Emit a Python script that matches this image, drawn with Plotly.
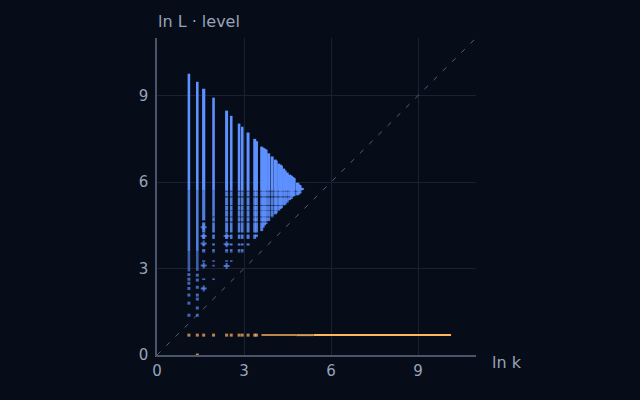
import plotly.graph_objects as go

# Columns: ln k, top of column, lowest mark
col_x = [1.10, 1.39, 1.61, 1.95, 2.40, 2.56, 2.83, 2.94, 3.14, 3.37, 3.43, 3.61, 3.66, 3.71, 3.76, 3.85, 3.97,
         4.08, 4.11, 4.20, 4.26, 4.29, 4.37, 4.42, 4.49, 4.57, 4.62, 4.63, 4.67, 4.69, 4.73,
         4.84, 4.87, 4.92, 4.93, 5.00, 5.02]
col_top = [9.76, 9.48, 9.24, 8.93, 8.48, 8.30, 8.03, 7.92, 7.72, 7.50, 7.42, 7.23, 7.19, 7.16, 7.13, 7.00, 6.89,
           6.78, 6.74, 6.64, 6.60, 6.57, 6.47, 6.40, 6.33, 6.26, 6.23, 6.21, 6.18, 6.16, 6.14,
           5.98, 5.95, 5.90, 5.88, 5.80, 5.78]
col_low = [2.90, 2.92, 2.28, 2.60, 3.07, 3.23, 3.55, 3.55, 3.80, 4.03, 4.10, 4.30, 4.42, 4.50, 4.55, 4.65, 4.77,
           4.88, 4.92, 5.00, 5.07, 5.10, 5.17, 5.22, 5.29, 5.37, 5.41, 5.43, 5.47, 5.49, 5.52,
           5.54, 5.56, 5.60, 5.62, 5.72, 5.75]
solid_from = [2.90, 2.92, 4.67, 5.00] + [5.67] * 33
col_width = [2.6, 2.6, 3.2, 2.6, 3.0, 2.6, 2.6, 2.6, 3.0, 3.0] + [3.0] * 27

# Value ranges in which marks are present (gaps between them are empty)
level_bands = [(2.28, 2.34), (2.60, 2.66), (3.07, 3.13), (3.23, 3.29), (3.55, 3.67), (3.80, 3.87), (4.03, 4.18),
               (4.25, 4.60), (4.63, 4.78), (4.80, 5.00), (5.01, 5.17), (5.19, 5.47), (5.50, 5.66)]

# Sparse marks below the solid parts of the first columns
sparse_x = [1.10, 1.10, 1.10, 1.10, 1.10, 1.10, 1.10, 1.39, 1.39, 1.39, 1.39, 1.39, 1.39, 1.39]
sparse_y = [2.79, 2.63, 2.49, 2.31, 2.08, 1.80, 1.38, 2.77, 2.60, 2.35, 2.08, 1.94, 1.63, 1.38]
plus_x = [1.61, 1.61, 1.61, 2.40, 1.61, 1.61, 2.40, 2.40]
plus_y = [2.31, 3.11, 3.87, 3.09, 4.13, 4.43, 3.84, 4.13]

# Orange series at ln L = ln 2
orange_level = 0.69
orange_runs = [(3.60, 4.80, 0.72), (4.80, 5.40, 0.85), (5.40, 10.14, 1.0)]
orange_extra_x = [1.39]
orange_extra_y = [0.0]

diag = [0, 11]
split_levels = [(0.0, 3.6, 0.62), (3.6, 5.7, 0.85), (5.7, 11.0, 1.0)]

BLUE = "94,144,255"
ORANGE = "255,180,94"
BG = "#060c18"
TEXT = "#98a3b8"
GRID = "#1a2132"
AXIS = "#4b5468"

fig = go.Figure()
fig.add_trace(go.Scatter(x=diag, y=diag, mode="lines",
                         line=dict(color="rgba(200,210,230,0.42)", width=1, dash="5px,8px"),
                         hoverinfo="skip"))

for w in sorted(set(col_width)):
    for lo_a, hi_a, alpha in split_levels:
        xs, ys = [], []
        for x, top, low, solid, cw in zip(col_x, col_top, col_low, solid_from, col_width):
            if cw != w:
                continue
            pieces = [(solid, top)]
            for a, b in level_bands:
                if b <= solid:
                    pieces.append((a, b))
            for a, b in pieces:
                a2, b2 = max(a, low, lo_a), min(b, top, hi_a)
                if b2 > a2:
                    xs += [x, x, None]
                    ys += [a2, b2, None]
        fig.add_trace(go.Scatter(x=xs, y=ys, mode="lines", line=dict(color=f"rgba({BLUE},{alpha})", width=w),
                                 connectgaps=False, hoverinfo="skip"))

fig.add_trace(go.Scatter(x=sparse_x, y=sparse_y, mode="markers",
                         marker=dict(symbol="square", size=3, color=f"rgba({BLUE},0.7)", line=dict(width=0)),
                         hoverinfo="skip"))
fig.add_trace(go.Scatter(x=plus_x, y=plus_y, mode="markers",
                         marker=dict(symbol="cross", size=5, color=f"rgba({BLUE},0.7)", line=dict(width=0)),
                         hoverinfo="skip"))

orange_marks = [x for x in col_x if x < 3.6]
fig.add_trace(go.Scatter(x=orange_marks, y=[orange_level] * len(orange_marks), mode="markers",
                         marker=dict(symbol="square", size=3, color=f"rgba({ORANGE},0.72)", line=dict(width=0)),
                         hoverinfo="skip"))
for a, b, alpha in orange_runs:
    fig.add_trace(go.Scatter(x=[a, b], y=[orange_level, orange_level], mode="lines",
                             line=dict(color=f"rgba({ORANGE},{alpha})", width=2), hoverinfo="skip"))
fig.add_trace(go.Scatter(x=orange_extra_x, y=orange_extra_y, mode="markers", cliponaxis=False,
                         marker=dict(symbol="square", size=3, color=f"rgba({ORANGE},0.72)", line=dict(width=0)),
                         hoverinfo="skip"))

axis_common = dict(range=[0, 11], tickvals=[0, 3, 6, 9], ticks="", showgrid=True, gridcolor=GRID, gridwidth=1,
                   zeroline=False, showline=True, linecolor=AXIS, linewidth=1.5,
                   tickfont=dict(family="DejaVu Sans", size=15, color=TEXT))
fig.update_layout(
    width=640, height=400, autosize=False, showlegend=False,
    paper_bgcolor=BG, plot_bgcolor=BG,
    margin=dict(l=157, r=164, t=38, b=45, pad=0),
    xaxis=dict(axis_common, ticklabelstandoff=1), yaxis=dict(axis_common, ticklabelstandoff=4),
    annotations=[
        dict(text="ln k", xref="paper", yref="paper", x=1.045, y=-0.024, xanchor="left", yanchor="middle",
             showarrow=False, font=dict(family="DejaVu Sans", size=16, color=TEXT)),
        dict(text="ln L · level", xref="paper", yref="paper", x=-0.002, y=1.015, xanchor="left", yanchor="bottom",
             showarrow=False, font=dict(family="DejaVu Sans", size=16, color=TEXT)),
    ],
)
fig.write_html("out.html", config=dict(displayModeBar=False),
               post_script="document.body.style.margin='0';document.body.style.background='#060c18';")
